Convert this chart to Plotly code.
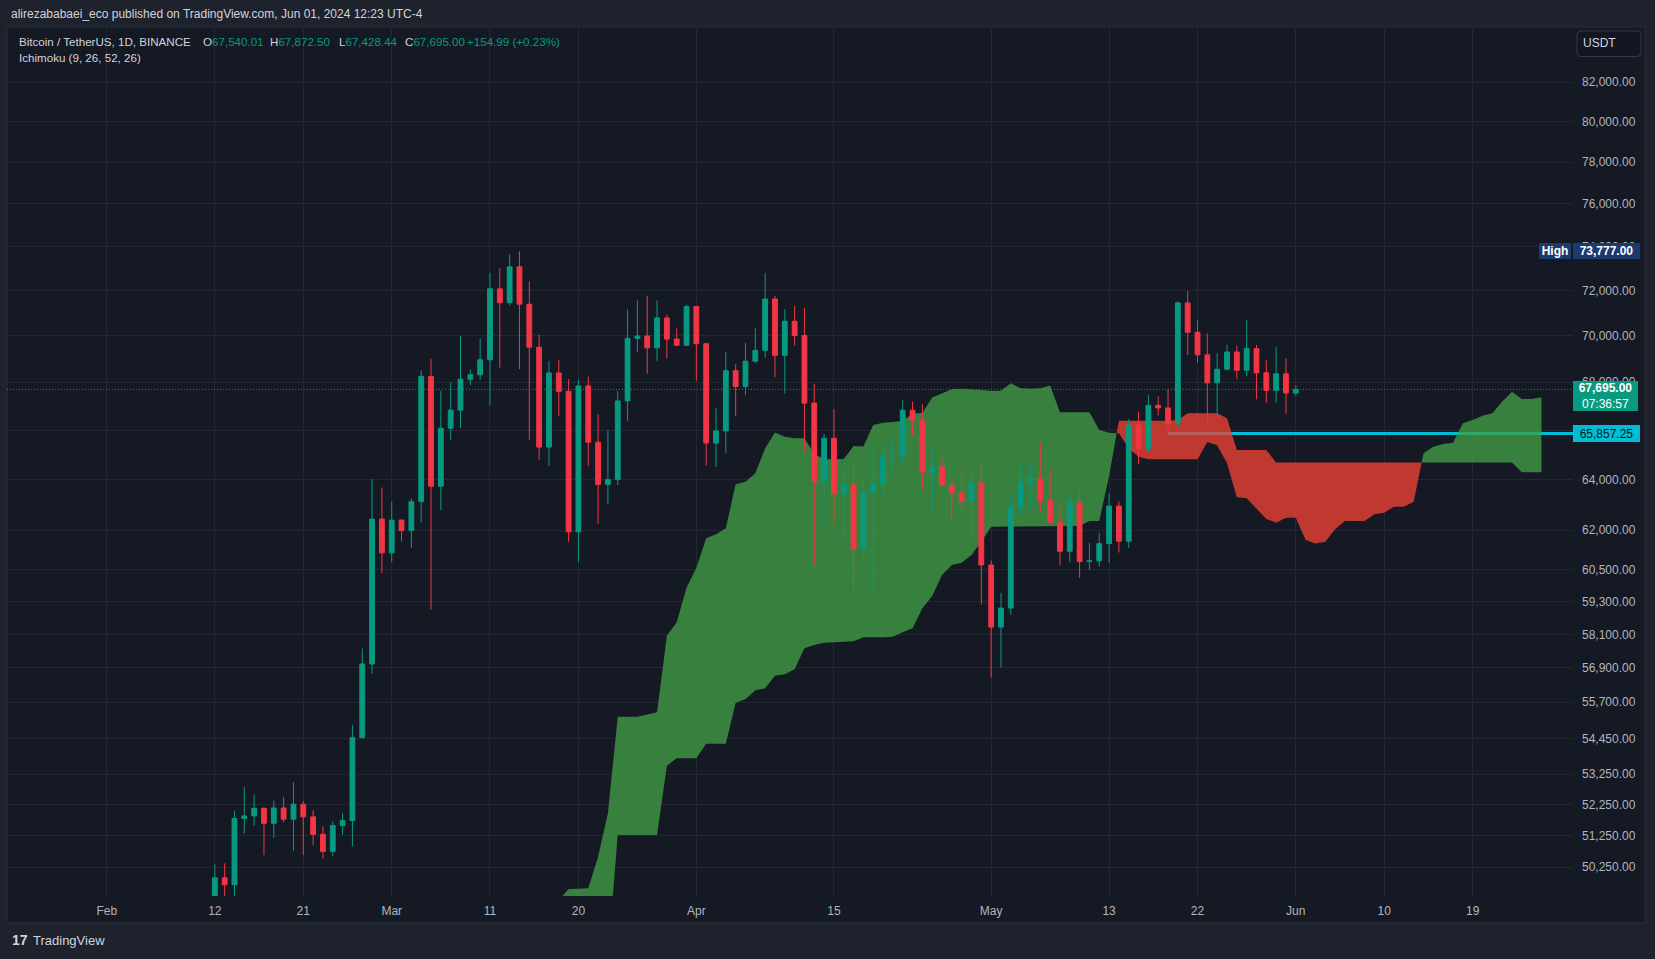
import numpy as np
import pandas as pd
import plotly.graph_objects as go

# ---------------- data (BTC/USDT 1D) ----------------
candle_start = "2024-02-12"
open_ = [48299.99, 49917.28, 49699.60, 51795.17, 51880.01, 52124.10, 51642.64, 52137.68, 51774.74, 52258.82,
         51849.38, 51288.42, 50744.15, 51568.21, 51728.85, 54476.48, 57037.35, 62432.11,
         61130.99, 62387.90, 61987.28, 63113.97, 68245.71, 63724.01, 66074.03, 66823.18, 68124.20, 68313.28,
         68955.88, 72078.48, 71452.00, 73072.40, 71388.94, 69499.84, 65300.64, 68393.47, 67610.00, 61937.41,
         67840.51, 65501.28, 63796.64, 63990.02, 67210.00, 69880.00, 69987.99, 69469.99, 70780.60, 69850.53, 69582.17,
         71280.00, 69649.81, 65463.99, 65963.27, 68487.80, 67820.63, 68896.12, 69360.38, 71620.00, 69146.00,
         70631.08, 70006.22, 67116.52, 63924.52, 65661.85, 63419.99, 63793.40, 61277.38, 63470.09, 63818.01,
         64940.58, 64941.15, 66819.32, 66414.00, 64289.59, 64498.33, 63770.00, 63461.98, 63118.62, 63866.00,
         60672.01, 58364.97, 59060.60, 62882.01, 63892.03, 64012.00, 63165.18, 62312.07, 61193.03, 63074.00,
         60799.99, 60825.99, 61484.00, 62940.09, 61577.49, 66206.51, 65235.21, 67024.00, 66915.20, 66274.00,
         71446.62, 70148.34, 69166.62, 67969.66, 68549.99, 69290.56, 68507.67, 69436.43, 68398.40, 67652.41, 68352.17,
         67540.01]
high = [50334.82, 50368.61, 52043.71, 52816.62, 52572.08, 52162.82, 52377.00, 52488.77, 52985.00, 52366.80,
        52065.78, 51548.54, 51698.00, 51958.55, 54910.00, 57588.15, 64000.00, 63676.35,
        63114.23, 62433.19, 63231.88, 68499.00, 69000.00, 67637.93, 67985.42, 69990.00, 68541.10, 69887.61,
        72800.00, 73000.00, 73650.25, 73777.00, 72419.71, 70043.00, 68904.40, 68956.00, 68124.11, 68100.00,
        68240.47, 66649.62, 65999.00, 67628.69, 71150.00, 71561.10, 71769.54, 71552.06, 70916.16, 70321.10, 71366.00,
        71288.23, 69674.23, 66903.63, 69309.91, 68756.67, 69692.00, 70326.29, 72797.99, 71758.19, 71172.08,
        71305.89, 71227.46, 67929.00, 65840.00, 66867.07, 64365.00, 64499.00, 64117.09, 65450.00, 65419.00,
        65695.56, 67232.35, 67183.01, 67070.43, 65297.94, 64837.99, 63923.41, 64370.00, 64228.35, 64734.00,
        60841.63, 59625.00, 63333.00, 64540.00, 64646.00, 65500.00, 64422.41, 63051.09, 63421.00, 63469.13,
        61515.00, 61888.00, 63450.00, 63118.36, 66444.16, 66752.01, 67451.20, 67400.01, 67700.00, 71515.56,
        71979.00, 70666.00, 70096.12, 69250.00, 69610.00, 69562.23, 70687.56, 69591.81, 68935.68, 69500.00, 69019.64,
        67872.50]
low = [47710.01, 48300.00, 49225.01, 51314.00, 51566.00, 50625.00, 51163.28, 51677.00, 50760.37, 50625.00,
       50940.78, 50521.00, 50585.00, 51279.80, 50901.44, 54450.13, 56691.85, 60364.70,
       60777.00, 61561.12, 61320.00, 62300.00, 59005.00, 62786.12, 65602.00, 66082.66, 67861.10, 68094.75,
       67024.96, 68620.82, 71333.31, 68555.00, 65600.00, 64780.00, 64533.00, 66565.20, 61555.00, 60775.00,
       64529.01, 62260.00, 63000.00, 63772.29, 66385.06, 69280.00, 68359.18, 68903.62, 69009.00, 69540.00, 69562.99,
       68062.86, 64550.00, 64493.07, 65064.52, 66578.54, 67447.83, 68824.00, 69043.24, 68210.00, 67518.00,
       69567.21, 65086.86, 60660.57, 62134.00, 62274.40, 61600.00, 59768.59, 60803.35, 59600.01, 63090.07,
       64237.50, 64500.00, 65765.81, 63606.06, 62794.00, 63749.63, 62391.24, 62781.00, 61765.53, 59191.60,
       56552.82, 56911.84, 58811.32, 62541.03, 62822.17, 62700.00, 62261.00, 60648.00, 60769.84, 60187.12,
       60487.09, 60610.00, 60749.21, 61142.77, 61319.47, 64602.77, 65106.38, 66600.00, 65857.25, 66060.31,
       69162.94, 68832.01, 66312.16, 66600.12, 68500.00, 68128.01, 68250.00, 67277.91, 67124.65, 67128.00, 66670.00,
       67428.44]
close = [49917.27, 49699.59, 51795.17, 51880.00, 52124.11, 51642.64, 52137.67, 51774.73, 52258.82, 51849.39,
         51288.42, 50744.15, 51568.22, 51728.85, 54476.47, 57037.34, 62432.10, 61130.98,
         62387.90, 61987.28, 63113.97, 68245.71, 63724.01, 66074.04, 66823.17, 68124.19, 68313.27, 68955.88,
         72078.48, 71452.01, 73072.41, 71388.94, 69499.85, 65300.63, 68393.48, 67609.99, 61937.40, 67840.51,
         65501.27, 63796.64, 63990.01, 67209.99, 69880.01, 69988.00, 69469.99, 70780.60, 69850.54, 69582.18, 71280.01,
         69649.80, 65463.99, 65963.28, 68487.79, 67820.62, 68896.11, 69360.39, 71620.00, 69146.00, 70631.08,
         70006.23, 67116.52, 63924.51, 65661.84, 63419.99, 63793.39, 61277.37, 63470.08, 63818.01, 64940.59,
         64941.15, 66819.32, 66414.00, 64289.59, 64498.34, 63770.01, 63461.98, 63118.62, 63866.00, 60672.00,
         58364.97, 59060.61, 62882.01, 63892.04, 64012.00, 63165.19, 62312.08, 61193.03, 63074.01, 60799.99,
         60825.99, 61483.99, 62940.08, 61577.49, 66206.50, 65235.21, 67024.00, 66915.20, 66274.01, 71446.62,
         70148.34, 69166.62, 67969.65, 68549.99, 69290.57, 68507.67, 69436.43, 68398.39, 67652.42, 68352.17, 67540.01,
         67695.00]

# Ichimoku cloud (leading spans), one value per day starting at cloud_start
cloud_start = "2024-03-18"
span_a = [49225, 49568, 49577, 49589, 50577, 51965, 55192, 55192, 55192, 55268, 55344,
          58053, 58540, 59817, 60569, 61689, 61843, 62075,
          63802, 63906, 64242, 65252, 65898, 65726, 65660, 65660, 65020, 64805, 64805, 64818, 65345, 65325,
          66208, 66302, 66331, 66372, 66684, 66705, 67352, 67529, 67702, 67723, 67710, 67668, 67626,
          67639, 67949, 67737, 67723, 67737, 67863, 66734, 66734, 66734, 66734,
          66001, 65890, 65865, 65252, 64911, 64805, 64805, 64805, 64805, 64805, 64805,
          65508, 65373, 64644, 63288, 63248, 62839, 62437, 62293, 62487, 62487,
          61624, 61489, 61558, 62036, 62359, 62359, 62359, 62620, 62683, 62918, 62918, 63114,
          65048, 65317, 65427, 65480, 66277, 66414, 66593, 66693, 67176, 67596, 67289, 67289, 67361]
span_b = [47510, 47510, 47510, 47510, 47510, 47510, 51266, 51266, 51266, 51266, 51266,
          53532, 53780, 53780, 53780, 54272, 54272, 54272,
          55677, 55795, 56109, 56179, 56622, 56672, 56849, 57598, 57717, 57800, 57836, 57836, 57850, 57995,
          57995, 57995, 58017, 58176, 58322, 59054, 59509, 60293, 60671, 60758, 61051, 61558, 62137,
          62164, 62164, 62164, 62164, 62164, 62164, 62164, 62164, 62164, 62359,
          62359, 64134, 66381, 66381, 66381, 66381, 66381, 66381, 66414, 66693, 66693,
          66693, 66693, 66481, 65183, 65183, 65183, 65183, 64677, 64677, 64677,
          64677, 64677, 64677, 64677, 64677, 64677, 64677, 64677, 64677, 64677, 64677, 64677,
          64677, 64677, 64677, 64677, 64677, 64677, 64677, 64677, 64677, 64677, 64283, 64283, 64283]

x_tickvals = ["2024-02-01", "2024-02-12", "2024-02-21", "2024-03-01", "2024-03-11", "2024-03-20", "2024-04-01",
              "2024-04-15", "2024-05-01", "2024-05-13", "2024-05-22", "2024-06-01", "2024-06-10", "2024-06-19"]
x_ticktext = ["Feb", "12", "21", "Mar", "11", "20", "Apr", "15", "May", "13", "22", "Jun", "10", "19"]
y_tickvals = [50250, 51250, 52250, 53250, 54450, 55700, 56900, 58100, 59300, 60500, 62000, 64000, 66000,
              68000, 70000, 72000, 74000, 76000, 78000, 80000, 82000]

last_price = 67695.00
ray_price = 65857.25
ray_start = "2024-05-19"
high_price = 73777.00
countdown = "07:36:57"

# ---------------- styling / layout constants ----------------
W, H = 1655, 959
L, R, T, B = 7, 1573, 27, 896          # plot area in pixels
BG = "#151924"
OUTER = "#1E222D"
GRID = "#232733"
TXT = "#B2B5BE"
UP = "#089981"
DN = "#F23645"
FONT = "Liberation Sans, Arial, sans-serif"


def PX(x):
    return (x - L) / (R - L)


def PY(y):
    return (B - y) / (B - T)


x_left = pd.Timestamp("2024-02-01") - pd.Timedelta(days=10.15)
x_right = pd.Timestamp("2024-02-01") + pd.Timedelta(days=149.21)
y_bottom, y_top = 49352, 84863
y_range = [np.log10(y_bottom), np.log10(y_top)]

dates = pd.date_range(candle_start, periods=len(close), freq="D")

fig = go.Figure()

# current price dotted line
fig.add_trace(go.Scatter(x=[x_left, x_right], y=[last_price, last_price], mode="lines",
                         line=dict(color=UP, width=1, dash="1px,2px"), hoverinfo="skip"))
# horizontal ray
fig.add_trace(go.Scatter(x=[pd.Timestamp(ray_start), x_right], y=[ray_price, ray_price], mode="lines",
                         line=dict(color="#00BCD4", width=3), hoverinfo="skip"))

# cloud polygons split where the spans cross
la = np.log(np.array(span_a, dtype=float))
lb = np.log(np.array(span_b, dtype=float))
d = la - lb
c0 = pd.Timestamp(cloud_start)
runs = []
cur_sign = np.sign(d[0])
cur = [(0.0, la[0], lb[0])]
for i in range(1, len(d)):
    s = np.sign(d[i])
    if s != 0 and s != cur_sign:
        f = d[i - 1] / (d[i - 1] - d[i])
        tc = i - 1 + f
        vc = la[i - 1] + f * (la[i] - la[i - 1])
        cur.append((tc, vc, vc))
        runs.append((cur_sign, cur))
        cur = [(tc, vc, vc)]
        cur_sign = s
    cur.append((float(i), la[i], lb[i]))
runs.append((cur_sign, cur))

for sgn, pts in runs:
    ts = [p[0] for p in pts]
    xs = [c0 + pd.Timedelta(days=t) for t in ts]
    xs = xs + xs[::-1] + [xs[0]]
    ys = [np.exp(p[1]) for p in pts] + [np.exp(p[2]) for p in pts][::-1] + [np.exp(pts[0][1])]
    col = "rgba(67,160,71,0.76)" if sgn > 0 else "rgba(244,67,54,0.76)"
    fig.add_trace(go.Scatter(x=xs, y=ys, mode="lines", fill="toself", fillcolor=col,
                             line=dict(width=0, color=col), hoverinfo="skip"))

# candles on an overlaid axis pair so they sit above the cloud
fig.add_trace(go.Candlestick(
    x=dates, open=open_, high=high, low=low, close=close,
    increasing=dict(line=dict(color=UP, width=1), fillcolor=UP),
    decreasing=dict(line=dict(color=DN, width=1), fillcolor=DN),
    whiskerwidth=0, hoverinfo="skip", xaxis="x2", yaxis="y2"))

shapes = [
    dict(type="rect", xref="paper", yref="paper", x0=PX(7), x1=PX(1645), y0=PY(923), y1=PY(T),
         fillcolor=BG, line=dict(color="#2A2E39", width=1), layer="below"),
]
# USDT rounded box
bx0, bx1, by0, by1 = PX(1577), PX(1641), PY(56.5), PY(31)
rx, ry = 4 / (R - L), 4 / (B - T)
path = (f"M {bx0+rx},{by0} L {bx1-rx},{by0} Q {bx1},{by0} {bx1},{by0+ry} L {bx1},{by1-ry} "
        f"Q {bx1},{by1} {bx1-rx},{by1} L {bx0+rx},{by1} Q {bx0},{by1} {bx0},{by1-ry} "
        f"L {bx0},{by0+ry} Q {bx0},{by0} {bx0+rx},{by0} Z")
shapes.append(dict(type="path", xref="paper", yref="paper", path=path, fillcolor="#131722",
                   line=dict(color="#363A45", width=1), layer="above"))

ann = []


def txt(x, y, text, size=12, color="#D1D4DC", anchor="left", **kw):
    ann.append(dict(x=PX(x), y=PY(y), xref="paper", yref="paper", text=text, showarrow=False,
                    xanchor=anchor, yanchor="middle", font=dict(size=size, color=color, family=FONT), **kw))


txt(9, 14, "alirezababaei_eco published on TradingView.com, Jun 01, 2024 12:23 UTC-4", size=12)
txt(17, 41, "Bitcoin / TetherUS, 1D, BINANCE", size=11.6)
g = f"<span style='color:{UP}'>"
txt(201, 41, f"O{g}{open_[-1]:,.2f}</span>", size=11.6)
txt(268, 41, f"H{g}{high[-1]:,.2f}</span>", size=11.6)
txt(337, 41, f"L{g}{low[-1]:,.2f}</span>", size=11.6)
txt(403, 41, f"C{g}{close[-1]:,.2f}</span>", size=11.6)
chg = close[-1] - open_[-1]
txt(465, 41, f"+{chg:,.2f} (+{chg / open_[-1] * 100:.2f}%)", size=11.6, color=UP)
txt(17, 58, "Ichimoku (9, 26, 52, 26)", size=11.6)
txt(1599, 43.5, "USDT", size=12, anchor="center")
txt(10, 940, "<b>17</b>", size=14, color="#D1D4DC")
txt(31, 940, "TradingView", size=13, color="#D1D4DC")

# price-scale labels
ann.append(dict(x=PX(1573), xref="paper", xanchor="left", y=np.log10(last_price), yref="y",
                yanchor="top", yshift=8, text=f"<b>{last_price:,.2f}</b><br>{countdown}",
                showarrow=False, bgcolor=UP, width=63, height=28, borderpad=1, borderwidth=0,
                align="center", font=dict(size=12, color="#FFFFFF", family=FONT)))
ann.append(dict(x=PX(1573), xref="paper", xanchor="left", y=np.log10(ray_price), yref="y",
                yanchor="middle", text=f"{ray_price:,.2f}", showarrow=False, bgcolor="#00BCD4",
                width=65, height=15, borderpad=1, borderwidth=0, align="center",
                font=dict(size=12, color="#131722", family=FONT)))
ann.append(dict(x=PX(1573), xref="paper", xanchor="left", y=np.log10(high_price), yref="y",
                yanchor="middle", text=f"<b>{high_price:,.2f}</b>", showarrow=False, bgcolor="#1D3A6F",
                width=65, height=14, borderpad=1, borderwidth=0, align="center",
                font=dict(size=12, color="#FFFFFF", family=FONT)))
ann.append(dict(x=PX(1571), xref="paper", xanchor="right", y=np.log10(high_price), yref="y",
                yanchor="middle", text="<b>High</b>", showarrow=False, bgcolor="#1D3A6F",
                width=30, height=14, borderpad=1, borderwidth=0, align="center",
                font=dict(size=12, color="#FFFFFF", family=FONT)))

fig.update_layout(
    width=W, height=H, margin=dict(l=L, r=W - R, t=T, b=H - B),
    paper_bgcolor=OUTER, plot_bgcolor="rgba(0,0,0,0)",
    showlegend=False, hovermode=False,
    font=dict(family=FONT, color=TXT, size=12),
    shapes=shapes, annotations=ann,
    xaxis=dict(type="date", range=[x_left, x_right], tickmode="array", tickvals=x_tickvals,
               ticktext=x_ticktext, showgrid=True, gridcolor=GRID, gridwidth=1, zeroline=False,
               showline=False, ticks="", ticklabelstandoff=6, rangeslider=dict(visible=False),
               tickfont=dict(color=TXT, size=12, family=FONT), fixedrange=True),
    yaxis=dict(type="log", side="right", range=y_range, tickmode="array",
               tickvals=y_tickvals, tickformat=",.2f", showgrid=True, gridcolor=GRID, gridwidth=1,
               zeroline=False, showline=False, ticks="", ticklabelstandoff=8,
               tickfont=dict(color=TXT, size=12, family=FONT), fixedrange=True),
    xaxis2=dict(type="date", overlaying="x", range=[x_left, x_right], visible=False,
                showgrid=False, rangeslider=dict(visible=False), fixedrange=True),
    yaxis2=dict(type="log", overlaying="y", side="right", range=y_range, visible=False,
                showgrid=False, fixedrange=True),
)

fig.write_html("out.html")
